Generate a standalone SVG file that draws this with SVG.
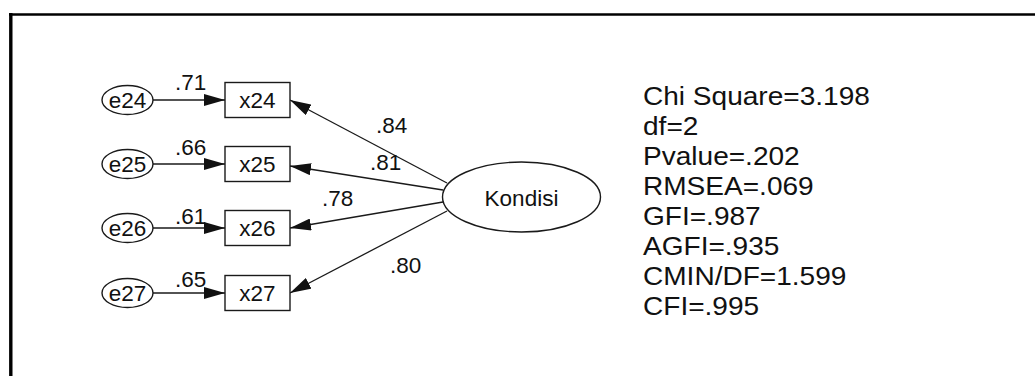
<svg xmlns="http://www.w3.org/2000/svg" width="1035" height="376" viewBox="0 0 1035 376">
<style>
.frame{fill:none;stroke:#000;}
.shape{fill:#fff;stroke:#1a1a1a;stroke-width:1.4;}
.conn{fill:none;stroke:#1a1a1a;stroke-width:1.3;marker-end:url(#ah);}
.lbl{font-family:"Liberation Sans",Arial,sans-serif;font-size:22.5px;fill:#111;}
.mid{text-anchor:middle;}
.stat{font-family:"Liberation Sans",Arial,sans-serif;font-size:25.5px;fill:#111;}
</style>
<defs>
<marker id="ah" viewBox="0 0 21 12" refX="21" refY="6" markerWidth="21" markerHeight="12" markerUnits="userSpaceOnUse" orient="auto">
<path d="M0,0 L21,6 L0,12 Z" fill="#111"/>
</marker>
</defs>
<rect width="1035" height="376" fill="#fff"/>
<g id="frame">
<line class="frame" x1="9" y1="14.5" x2="1035" y2="14.5" stroke-width="2.6"/>
<line class="frame" x1="10.8" y1="13" x2="10.8" y2="376" stroke-width="3.4"/>
</g>
<g id="connectors">
<line class="conn" x1="153" y1="100" x2="225" y2="100"/>
<line class="conn" x1="153" y1="164" x2="225" y2="164"/>
<line class="conn" x1="153" y1="228" x2="225" y2="228"/>
<line class="conn" x1="153" y1="293" x2="225" y2="293"/>
<line class="conn" x1="447" y1="183" x2="290" y2="100"/>
<line class="conn" x1="443" y1="190" x2="290" y2="166"/>
<line class="conn" x1="443" y1="202" x2="290" y2="228"/>
<line class="conn" x1="447" y1="211" x2="290" y2="293"/>
</g>
<g id="labels">
<text class="lbl" x="175" y="90">.71</text>
<text class="lbl" x="175" y="155">.66</text>
<text class="lbl" x="175" y="224">.61</text>
<text class="lbl" x="175" y="287">.65</text>
<text class="lbl" x="376" y="133">.84</text>
<text class="lbl" x="370" y="170">.81</text>
<text class="lbl" x="322" y="206">.78</text>
<text class="lbl" x="390" y="273">.80</text>
</g>
<g id="e24"><ellipse class="shape" cx="127.5" cy="100" rx="25.5" ry="14.5"/><text class="lbl mid" x="127.5" y="108">e24</text></g>
<g id="e25"><ellipse class="shape" cx="127.5" cy="164" rx="25.5" ry="14.5"/><text class="lbl mid" x="127.5" y="172">e25</text></g>
<g id="e26"><ellipse class="shape" cx="127.5" cy="228" rx="25.5" ry="14.5"/><text class="lbl mid" x="127.5" y="236">e26</text></g>
<g id="e27"><ellipse class="shape" cx="127.5" cy="293" rx="25.5" ry="14.5"/><text class="lbl mid" x="127.5" y="301">e27</text></g>
<g id="x24"><rect class="shape" x="225" y="82.5" width="65" height="35"/><text class="lbl mid" x="257.5" y="108">x24</text></g>
<g id="x25"><rect class="shape" x="225" y="146.5" width="65" height="35"/><text class="lbl mid" x="257.5" y="172">x25</text></g>
<g id="x26"><rect class="shape" x="225" y="210.5" width="65" height="35"/><text class="lbl mid" x="257.5" y="236">x26</text></g>
<g id="x27"><rect class="shape" x="225" y="275.5" width="65" height="35"/><text class="lbl mid" x="257.5" y="301">x27</text></g>
<g id="Kondisi"><ellipse class="shape" cx="521.5" cy="197" rx="79" ry="35"/><text class="lbl mid" x="521.5" y="206" font-size="23">Kondisi</text></g>
<g id="fit-stats" transform="matrix(1.1 0 0 1 643 0)">
<text class="stat" x="0" y="105">Chi Square=3.198</text>
<text class="stat" x="0" y="135">df=2</text>
<text class="stat" x="0" y="165">Pvalue=.202</text>
<text class="stat" x="0" y="195">RMSEA=.069</text>
<text class="stat" x="0" y="225">GFI=.987</text>
<text class="stat" x="0" y="255">AGFI=.935</text>
<text class="stat" x="0" y="285">CMIN/DF=1.599</text>
<text class="stat" x="0" y="315">CFI=.995</text>
</g>
</svg>
